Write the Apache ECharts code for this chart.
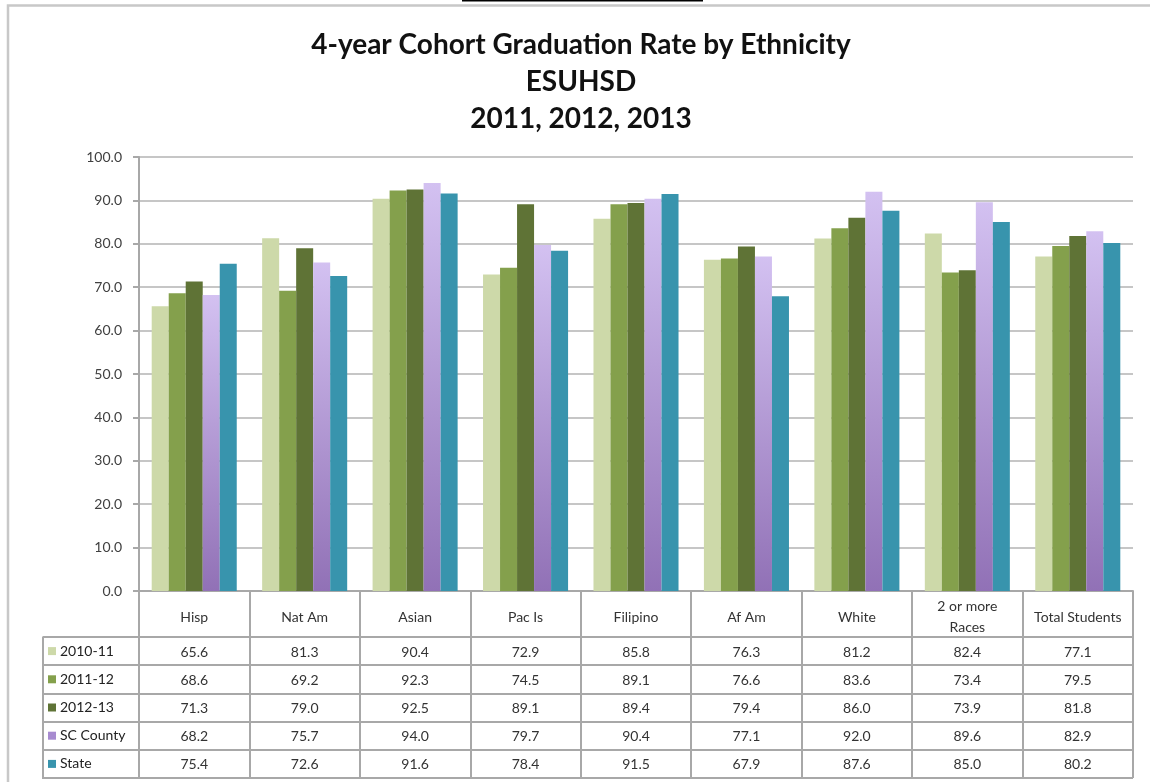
<!DOCTYPE html>
<html>
<head>
<meta charset="utf-8">
<title>4-year Cohort Graduation Rate by Ethnicity</title>
<script src="https://cdn.jsdelivr.net/npm/echarts@6/dist/echarts.min.js"></script>
<style>
    html, body { margin: 0; padding: 0; background: #fff; }
    #chart { width: 1150px; height: 782px; }
</style>
</head>
<body>
<div id="chart"></div>
<script>
// categories (header row of the data table)
const categories = ['Hisp', 'Nat Am', 'Asian', 'Pac Is', 'Filipino', 'Af Am', 'White', '2 or more\nRaces', 'Total Students'];
const seriesNames = ['2010-11', '2011-12', '2012-13', 'SC County', 'State'];

// graduation rates, one array per series
const rate201011 = [65.6, 81.3, 90.4, 72.9, 85.8, 76.3, 81.2, 82.4, 77.1];
const rate201112 = [68.6, 69.2, 92.3, 74.5, 89.1, 76.6, 83.6, 73.4, 79.5];
const rate201213 = [71.3, 79.0, 92.5, 89.1, 89.4, 79.4, 86.0, 73.9, 81.8];
const rateCounty = [68.2, 75.7, 94.0, 79.7, 90.4, 77.1, 92.0, 89.6, 82.9];
const rateState = [75.4, 72.6, 91.6, 78.4, 91.5, 67.9, 87.6, 85.0, 80.2];

// y axis ticks
const yTicks = [0, 10, 20, 30, 40, 50, 60, 70, 80, 90, 100];

const allRates = [rate201011, rate201112, rate201213, rateCounty, rateState];

const gridColor = '#c6c6c6';
const axisColor = '#a8a8a8';
const font = 'Lato';

const purple = new echarts.graphic.LinearGradient(0, 0, 0, 1, [
    { offset: 0, color: '#d3c1f1' },
    { offset: 1, color: '#9171b6' },
]);
const colors = ['#cdd9a9', '#84a04c', '#5f7336', purple, '#3894ad'];
const swatchColors = ['#cdd9a9', '#84a04c', '#5f7336', '#a78bd0', '#3894ad'];

// rich styles for the legend column of the table
const rich = { t: { fontFamily: font, fontSize: 14, color: '#222', padding: [0, 0, 0, 4] } };
swatchColors.forEach((c, i) => {
    rich['s' + i] = { backgroundColor: c, width: 8, height: 8 };
});

// table cells: [category index, row index, value]
const cellData = [];
allRates.forEach((arr, r) => {
    arr.forEach((v, c) => cellData.push([c, r, v]));
});

let myChart = echarts.init(document.getElementById('chart'));
myChart.setOption({
    animation: false,
    backgroundColor: '#fff',
    title: {
        text: '4-year Cohort Graduation Rate by Ethnicity\nESUHSD\n2011, 2012, 2013',
        left: 576,
        top: 21,
        textAlign: 'center',
        textStyle: {
            fontFamily: font,
            fontWeight: 'bold',
            fontSize: 28,
            lineHeight: 37,
            color: '#111',
        },
    },
    graphic: [
        // outer chart frame
        {
            type: 'rect',
            shape: { x: 8, y: 5.5, width: 1200, height: 820 },
            style: { fill: null, stroke: '#c8c8c8', lineWidth: 2.5 },
            silent: true,
        },
        {
            type: 'rect',
            shape: { x: 462, y: 0, width: 241, height: 1.5 },
            style: { fill: '#000' },
            silent: true,
        },
        // left edge of the legend column
        {
            type: 'line',
            shape: { x1: 43, y1: 636.5, x2: 43, y2: 779 },
            style: { stroke: axisColor, lineWidth: 2 },
            silent: true,
        },
    ],
    grid: [
        { left: 139, right: 17, top: 157, bottom: 191 },
        { left: 139, right: 17, top: 637, height: 141 },
    ],
    xAxis: [
        {
            type: 'category',
            gridIndex: 0,
            data: categories,
            axisLine: { lineStyle: { color: axisColor, width: 2 } },
            axisTick: { show: true, interval: 0, length: 46, lineStyle: { color: axisColor, width: 2 } },
            axisLabel: {
                interval: 0,
                margin: 26,
                verticalAlign: 'middle',
                fontFamily: font,
                fontSize: 14,
                lineHeight: 21,
                color: '#333',
            },
        },
        {
            type: 'category',
            gridIndex: 1,
            data: categories,
            axisLine: { show: false },
            axisTick: { show: false },
            axisLabel: { show: false },
            splitLine: { show: true, interval: 0, lineStyle: { color: axisColor, width: 2 } },
        },
    ],
    yAxis: [
        {
            type: 'value',
            gridIndex: 0,
            min: yTicks[0],
            max: yTicks[yTicks.length - 1],
            interval: yTicks[1] - yTicks[0],
            axisLine: { show: true, lineStyle: { color: axisColor, width: 2 } },
            axisTick: { show: true, length: 6, lineStyle: { color: axisColor, width: 2 } },
            axisLabel: {
                margin: 17,
                fontFamily: font,
                fontSize: 14,
                color: '#404040',
                formatter: (v) => v.toFixed(1),
            },
            splitLine: { lineStyle: { color: gridColor, width: 2 } },
        },
        {
            type: 'category',
            gridIndex: 1,
            inverse: true,
            data: seriesNames,
            axisLine: { show: false },
            axisTick: { show: true, interval: 0, length: 96, lineStyle: { color: axisColor, width: 2 } },
            axisLabel: {
                interval: 0,
                align: 'left',
                margin: 91,
                formatter: (v, i) => '{s' + i + '|}{t|' + v + '}',
                rich: rich,
            },
            splitLine: { show: true, interval: 0, lineStyle: { color: axisColor, width: 2 } },
        },
    ],
    series: seriesNames
        .map((name, i) => ({
            name: name,
            type: 'bar',
            xAxisIndex: 0,
            yAxisIndex: 0,
            barGap: 0,
            barCategoryGap: '23%',
            itemStyle: { color: colors[i] },
            data: allRates[i],
        }))
        .concat([
            {
                name: 'table',
                type: 'custom',
                xAxisIndex: 1,
                yAxisIndex: 1,
                encode: { x: 0, y: 1 },
                data: cellData,
                renderItem: (params, api) => {
                    const p = api.coord([api.value(0), api.value(1)]);
                    return {
                        type: 'text',
                        x: p[0],
                        y: p[1] + 1,
                        style: {
                            text: api.value(2).toFixed(1),
                            align: 'center',
                            verticalAlign: 'middle',
                            font: '14px ' + font,
                            fill: '#333',
                        },
                    };
                },
            },
        ]),
});
</script>
</body>
</html>
